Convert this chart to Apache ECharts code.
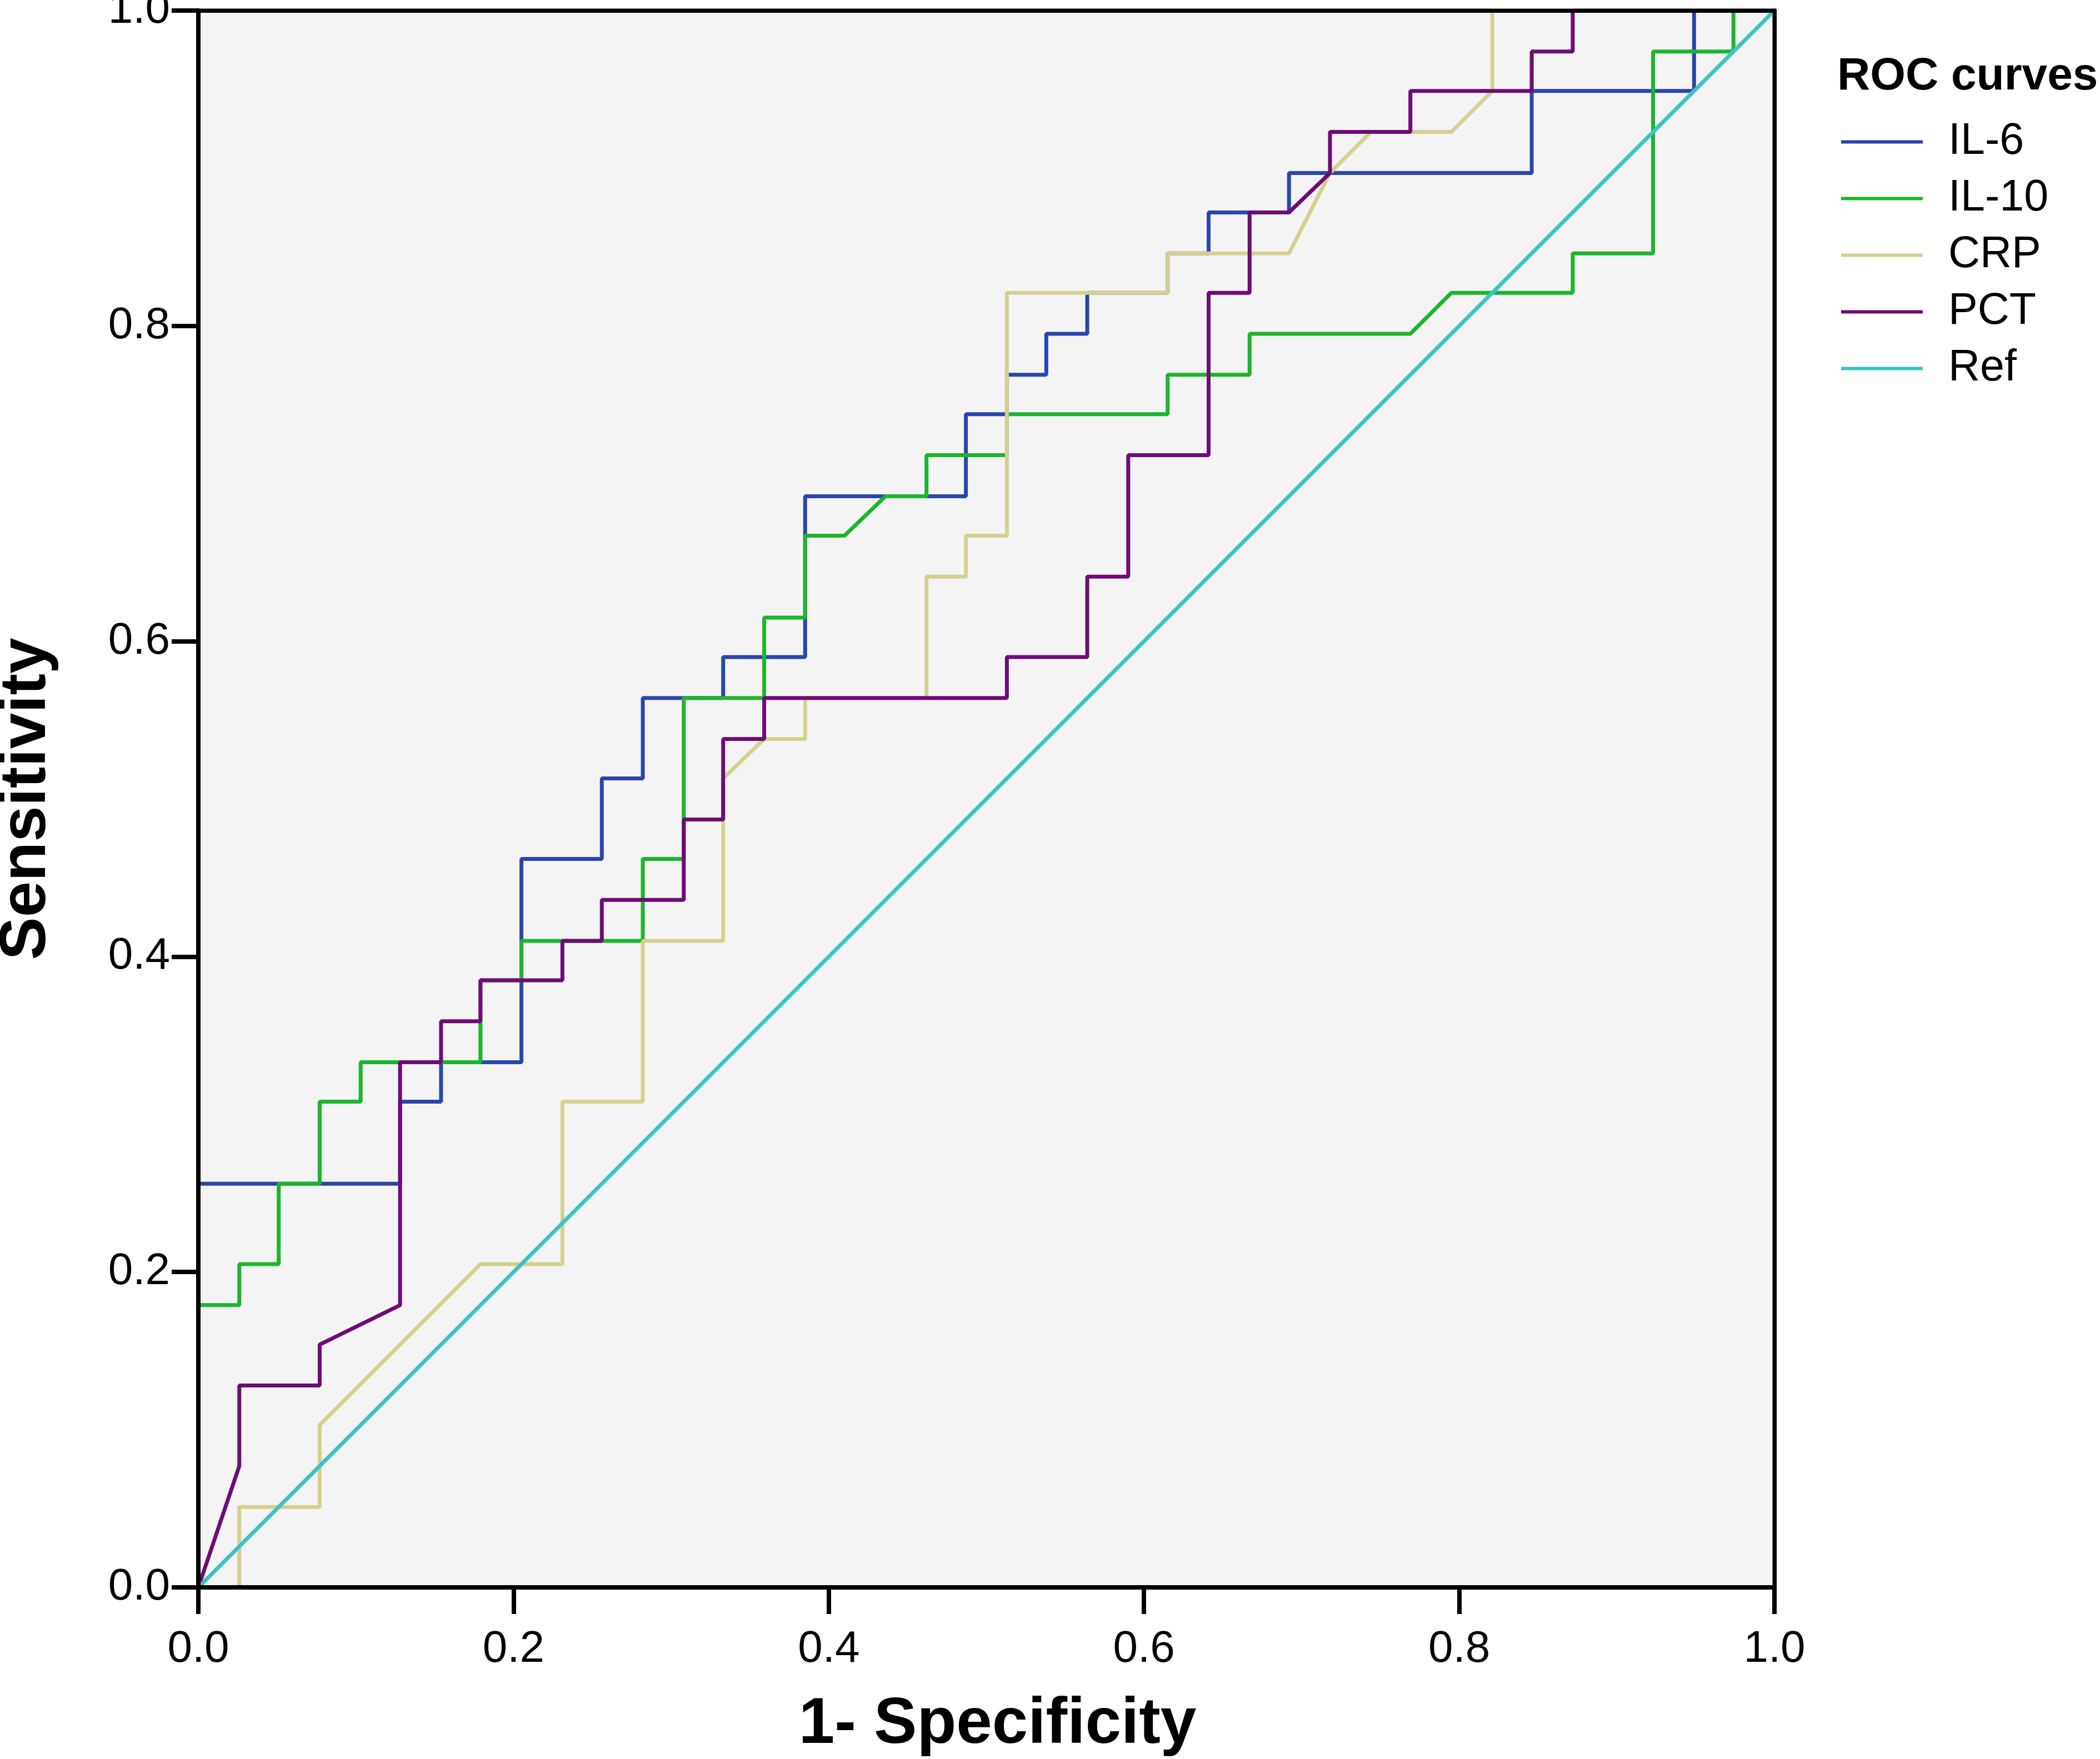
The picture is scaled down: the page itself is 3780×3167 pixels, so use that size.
<!DOCTYPE html>
<html>
<head>
<meta charset="utf-8">
<script src="https://cdn.jsdelivr.net/npm/echarts@6/dist/echarts.min.js"></script>
<style>
  html, body { margin: 0; padding: 0; background: #fff; }
  #chart { width: 3780px; height: 3167px; }
</style>
</head>
<body>
<div id="chart"></div>
<script>
// ROC points [1-specificity, sensitivity]
var il6 = [[0,0],[0,0.256],[0.128,0.256],[0.128,0.308],[0.154,0.308],[0.154,0.333],[0.205,0.333],[0.205,0.462],
  [0.256,0.462],[0.256,0.513],[0.282,0.513],[0.282,0.564],[0.333,0.564],[0.333,0.590],[0.385,0.590],[0.385,0.692],
  [0.487,0.692],[0.487,0.744],[0.513,0.744],[0.513,0.769],[0.538,0.769],[0.538,0.795],[0.564,0.795],[0.564,0.821],
  [0.615,0.821],[0.615,0.846],[0.641,0.846],[0.641,0.872],[0.692,0.872],[0.692,0.897],[0.846,0.897],[0.846,0.949],
  [0.949,0.949],[0.949,1],[1,1]];

var il10 = [[0,0],[0,0.179],[0.026,0.179],[0.026,0.205],[0.051,0.205],[0.051,0.256],[0.077,0.256],[0.077,0.308],
  [0.103,0.308],[0.103,0.333],[0.179,0.333],[0.179,0.385],[0.205,0.385],[0.205,0.410],[0.282,0.410],[0.282,0.462],
  [0.308,0.462],[0.308,0.564],[0.359,0.564],[0.359,0.615],[0.385,0.615],[0.385,0.667],[0.410,0.667],[0.436,0.692],
  [0.462,0.692],[0.462,0.718],[0.513,0.718],[0.513,0.744],[0.615,0.744],[0.615,0.769],[0.667,0.769],[0.667,0.795],
  [0.769,0.795],[0.795,0.821],[0.872,0.821],[0.872,0.846],[0.923,0.846],[0.923,0.974],[0.974,0.974],[0.974,1],[1,1]];

var crp = [[0,0],[0.026,0],[0.026,0.051],[0.077,0.051],[0.077,0.103],[0.179,0.205],[0.231,0.205],[0.231,0.308],
  [0.282,0.308],[0.282,0.410],[0.333,0.410],[0.333,0.513],[0.359,0.538],[0.385,0.538],[0.385,0.564],[0.462,0.564],
  [0.462,0.641],[0.487,0.641],[0.487,0.667],[0.513,0.667],[0.513,0.821],[0.615,0.821],[0.615,0.846],[0.692,0.846],
  [0.718,0.897],[0.744,0.923],[0.795,0.923],[0.821,0.949],[0.821,1],[1,1]];

var pct = [[0,0],[0.026,0.077],[0.026,0.128],[0.077,0.128],[0.077,0.154],[0.128,0.179],[0.128,0.333],[0.154,0.333],
  [0.154,0.359],[0.179,0.359],[0.179,0.385],[0.231,0.385],[0.231,0.410],[0.256,0.410],[0.256,0.436],[0.308,0.436],
  [0.308,0.487],[0.333,0.487],[0.333,0.538],[0.359,0.538],[0.359,0.564],[0.513,0.564],[0.513,0.590],[0.564,0.590],
  [0.564,0.641],[0.590,0.641],[0.590,0.718],[0.641,0.718],[0.641,0.821],[0.667,0.821],[0.667,0.872],[0.692,0.872],
  [0.718,0.897],[0.718,0.923],[0.769,0.923],[0.769,0.949],[0.846,0.949],[0.846,0.974],[0.872,0.974],[0.872,1],[1,1]];

var ref = [[0,0],[1,1]];

var names = ['IL-6', 'IL-10', 'CRP', 'PCT', 'Ref'];
var lines = [il6, il10, crp, pct, ref];
var colors = ['#2a46ad', '#1cb52e', '#d5d08f', '#6f0b77', '#3dc3c6'];
var ticks = [0, 0.2, 0.4, 0.6, 0.8, 1.0];

var font = "'Liberation Sans', Arial, sans-serif";
var myChart = echarts.init(document.getElementById('chart'));

function axis(name, gap, margin, namePad) {
  return {
    type: 'value',
    min: ticks[0],
    max: ticks[ticks.length - 1],
    interval: 0.2,
    z: 10,
    name: name,
    nameLocation: 'middle',
    nameGap: gap,
    nameTextStyle: { fontFamily: font, fontSize: 116, fontWeight: 'bold', color: '#000', padding: namePad },
    axisLine: { show: true, lineStyle: { color: '#000', width: 8 } },
    axisTick: { show: true, inside: false, length: 48, lineStyle: { color: '#000', width: 8 } },
    axisLabel: {
      margin: margin,
      fontFamily: font,
      fontSize: 80,
      color: '#000',
      formatter: function (v) { return v.toFixed(1); }
    },
    splitLine: { show: false }
  };
}

// top / right frame drawn over the curves
function frame(pos) {
  return {
    type: 'value',
    position: pos,
    min: ticks[0],
    max: ticks[ticks.length - 1],
    z: 10,
    axisLine: { show: true, onZero: false, lineStyle: { color: '#000', width: 7 } },
    axisTick: { show: false },
    axisLabel: { show: false },
    splitLine: { show: false }
  };
}

var option = {
  animation: false,
  backgroundColor: '#fff',
  color: colors,
  title: {
    text: 'ROC curves',
    left: 3307,
    top: 97,
    padding: 0,
    textStyle: { fontFamily: font, fontSize: 82, fontWeight: 'bold', color: '#000' }
  },
  legend: {
    data: names,
    orient: 'vertical',
    left: 3314,
    top: 216,
    padding: 0,
    icon: 'rect',
    itemWidth: 147,
    itemHeight: 6,
    itemGap: 23,
    textStyle: { fontFamily: font, fontSize: 79, color: '#000', padding: [0, 0, 0, 41] }
  },
  grid: {
    left: 357,
    top: 19,
    width: 2837,
    height: 2839,
    outerBoundsMode: 'none',
    show: true,
    backgroundColor: '#f4f4f4',
    borderColor: '#000',
    borderWidth: 7
  },
  xAxis: [axis('1- Specificity', 190, 72, [0, 0, 0, 40]), frame('top')],
  yAxis: [axis('Sensitivity', 250, 51, 0), frame('right')],
  series: []
};

for (var i = 0; i < names.length; i++) {
  option.series.push({
    name: names[i],
    type: 'line',
    data: lines[i],
    showSymbol: false,
    symbol: 'none',
    lineStyle: { width: 7, color: colors[i] },
    itemStyle: { color: colors[i] },
    z: 2 + i
  });
}

myChart.setOption(option);
</script>
</body>
</html>
